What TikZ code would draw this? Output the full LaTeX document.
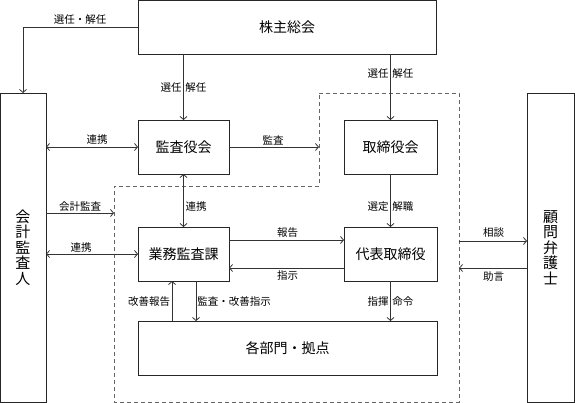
\documentclass[tikz,border=0pt]{standalone}
\usepackage{fontspec}
\setmainfont{Noto Sans CJK JP}
\usetikzlibrary{arrows.meta}
\begin{document}
\begin{tikzpicture}[x=1pt,y=-1pt,line width=0.8pt,
    box/.style={draw=black!85,inner sep=0pt,outer sep=0pt,font=\fontsize{14}{16}\selectfont},
    side/.style={box,minimum width=46pt,minimum height=309pt,align=center,font=\fontsize{15}{15.6}\selectfont},
    lbl/.style={font=\fontsize{10.5}{12}\selectfont,inner sep=0pt},
    conn/.style={draw=black!80,-{Straight Barb[length=3pt,width=7pt]}},
    both/.style={conn,{Straight Barb[length=3pt,width=7pt]}-{Straight Barb[length=3pt,width=7pt]}}]
\useasboundingbox (0,0) rectangle (575,403);
\node [box,minimum width=298pt,minimum height=54pt] (soukai) at (287,27) {株主総会};
\node [box,minimum width=91pt,minimum height=54pt] (kansa) at (183.5,147) {監査役会};
\node [box,minimum width=93pt,minimum height=54pt] (torishimari) at (390.5,147) {取締役会};
\node [box,minimum width=91pt,minimum height=54pt] (gyomu) at (183.5,254) {業務監査課};
\node [box,minimum width=93pt,minimum height=54pt] (daihyo) at (390.5,254) {代表取締役};
\node [box,minimum width=299pt,minimum height=54pt] (bumon) at (287.5,348) {各部門・拠点};
\node [side] (kaikei) at (23,247.5) {会\\計\\監\\査\\人};
\node [side,minimum width=47pt] (bengoshi) at (550.5,247.5) {顧\\問\\弁\\護\\士};
% dashed area
\draw [black!60,dashed,dash pattern=on 4pt off 3pt] (319,93) -- (459,93) -- (459,402) -- (114,402) -- (114,186) -- (319,186) -- cycle;
\coordinate (kansaEnd) at (319,147);
\coordinate (kaikeiEnd) at (114,213);
\coordinate (soudanEnd) at (459,241);
\coordinate (jogenEnd) at (459,268);
\coordinate (kaizenTop) at ([xshift=-11.5pt]gyomu.south);
\coordinate (shijiTop) at ([xshift=12.5pt]gyomu.south);
\draw [conn] (soukai.west) -- (kaikei.north |- soukai.west) -- (kaikei.north);
\draw [conn] (kansa.north |- soukai.south) -- (kansa.north);
\draw [conn] (torishimari.north |- soukai.south) -- (torishimari.north);
\draw [both] (kaikei.east |- kansa) -- (kansa.west);
\draw [conn] (kansa.east) -- (kansaEnd);
\draw [both] (kansa.south) -- (gyomu.north);
\draw [conn] (kaikei.east |- kaikeiEnd) -- (kaikeiEnd);
\draw [both] (kaikei.east |- gyomu) -- (gyomu.west);
\draw [conn] ([yshift=14pt]gyomu.east) -- ([yshift=14pt]daihyo.west);
\draw [conn] ([yshift=-14pt]daihyo.west) -- ([yshift=-14pt]gyomu.east);
\draw [conn] (torishimari.south) -- (daihyo.north);
\draw [conn] (daihyo.south) -- (daihyo.south |- bumon.north);
\draw [conn] (kaizenTop |- bumon.north) -- (kaizenTop);
\draw [conn] (shijiTop) -- (shijiTop |- bumon.north);
\draw [conn] (soudanEnd) -- (bengoshi.west |- soudanEnd);
\draw [conn] (bengoshi.west |- jogenEnd) -- (jogenEnd);
% labels
\node [lbl] (l1) at (80,20) {選任・解任};
\node [lbl] (l2) at (183.5,88) {選任\hspace{4pt}解任};
\node [lbl] (l3) at (390.5,74) {選任\hspace{4pt}解任};
\node [lbl] (l4) at (97,140) {連携};
\node [lbl] (l5) at (273,140) {監査};
\node [lbl] (l6) at (196,207) {連携};
\node [lbl] (l7) at (80,207) {会計監査};
\node [lbl] (l8) at (81,248) {連携};
\node [lbl] (l9) at (287.5,233) {報告};
\node [lbl] (l10) at (287.5,276) {指示};
\node [lbl] (l11) at (390.5,207) {選定\hspace{4pt}解職};
\node [lbl] (l12) at (390.5,302) {指揮\hspace{4pt}命令};
\node [lbl] (l13) at (149,302) {改善報告};
\node [lbl] (l14) at (234,302) {監査・改善指示};
\node [lbl] (l15) at (493.5,233) {相談};
\node [lbl] (l16) at (493.5,277) {助言};
\end{tikzpicture}
\end{document}
